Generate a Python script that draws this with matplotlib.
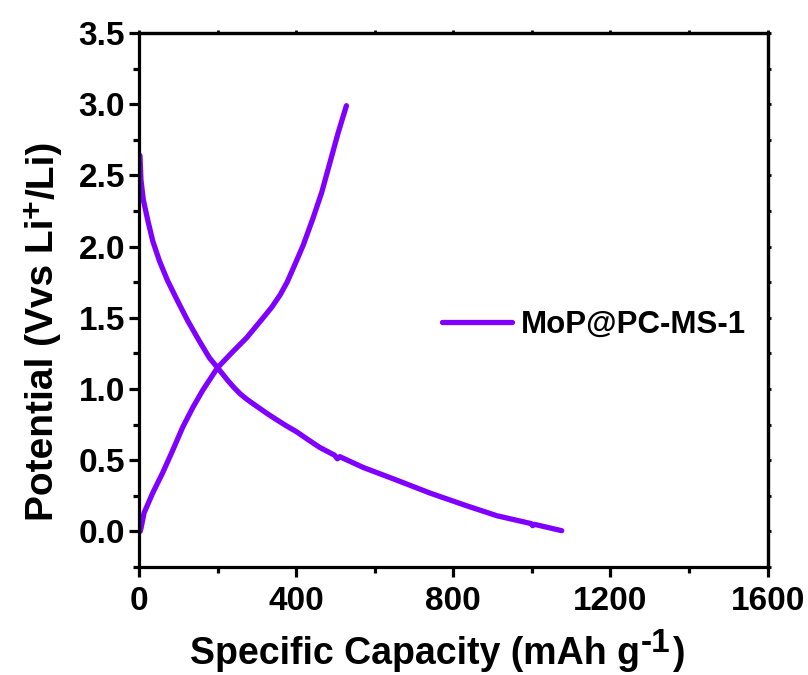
import matplotlib
matplotlib.use("Agg")
import matplotlib.pyplot as plt
from matplotlib.ticker import MultipleLocator, FormatStrFormatter

plt.rcParams['font.family'] = ['Liberation Sans', 'DejaVu Sans']
plt.rcParams['font.weight'] = 'bold'

# Discharge curve (capacity mAh/g, potential V)
dis_cap = [0, 2.5, 5, 11, 22, 35, 52, 73, 98, 124, 153, 179, 200, 226, 242, 258, 276, 299,
           325, 350, 376, 401, 430, 460, 498, 505, 511, 570, 656, 740, 834, 911, 998, 1002,
           1006, 1076]
dis_v = [2.64, 2.64, 2.47, 2.33, 2.19, 2.04, 1.90, 1.76, 1.62, 1.48, 1.34, 1.22, 1.15, 1.06,
         1.01, 0.965, 0.925, 0.88, 0.83, 0.785, 0.74, 0.70, 0.645, 0.59, 0.535, 0.51, 0.525,
         0.45, 0.36, 0.27, 0.18, 0.11, 0.055, 0.04, 0.05, 0.005]

# Charge curve
ch_cap = [3, 5, 13, 35, 60, 86, 111, 137, 162, 200, 238, 274, 316, 338, 359, 377, 393, 418,
          443, 465, 486, 507, 528]
ch_v = [0.0, 0.02, 0.13, 0.27, 0.41, 0.57, 0.73, 0.87, 0.99, 1.15, 1.26, 1.36, 1.50, 1.575,
        1.66, 1.75, 1.85, 2.01, 2.20, 2.38, 2.59, 2.80, 2.99]

label = "MoP@PC-MS-1"
xlabel_main, xlabel_sup, xlabel_end = "Specific Capacity (mAh g", "-1", ")"
ylabel_main, ylabel_sup, ylabel_end = "Potential (Vvs Li", "+", "/Li)"
color = "#7F00FF"

fig = plt.figure(figsize=(8.08, 6.75), dpi=100)
ax = fig.add_axes([0.172, 0.160, 0.778, 0.791])

ax.plot(dis_cap, dis_v, color=color, lw=3.8, solid_capstyle='round',
        solid_joinstyle='round', label=label)
ax.plot(ch_cap, ch_v, color=color, lw=3.8, solid_capstyle='round', solid_joinstyle='round')

ax.set_xlim(0, 1600)
ax.set_ylim(-0.25, 3.5)
ax.xaxis.set_major_locator(MultipleLocator(400))
ax.xaxis.set_minor_locator(MultipleLocator(200))
ax.yaxis.set_major_locator(MultipleLocator(0.5))
ax.yaxis.set_minor_locator(MultipleLocator(0.25))
ax.yaxis.set_major_formatter(FormatStrFormatter('%.1f'))

for s in ax.spines.values():
    s.set_linewidth(2.3)

ax.tick_params(which='major', direction='out', length=7, width=2.3, labelsize=24, pad=3)
ax.tick_params(which='minor', direction='out', length=4.5, width=2.3)
ax.tick_params(axis='x', which='major', pad=7)
for lab in ax.get_xticklabels() + ax.get_yticklabels():
    lab.set_fontweight('bold')

secx = ax.secondary_xaxis('top')
secx.xaxis.set_major_locator(MultipleLocator(200))
secx.tick_params(direction='out', length=2.5, width=2.0, labeltop=False)
secx.spines['top'].set_linewidth(2.3)
secy = ax.secondary_yaxis('right')
secy.yaxis.set_major_locator(MultipleLocator(0.25))
secy.tick_params(direction='out', length=2.5, width=2.0, labelright=False)
secy.spines['right'].set_linewidth(2.3)

# X label with a full-size raised superscript
xb = 0.016
t1 = fig.text(0.235, xb, xlabel_main, fontsize=27, fontweight='bold', ha='left', va='baseline')
t2 = ax.annotate(xlabel_sup, xy=(1, xb), xycoords=(t1, 'figure fraction'),
                 xytext=(0.5, 9), textcoords='offset points', fontsize=24, fontweight='bold',
                 ha='left', va='baseline', annotation_clip=False)
t3 = ax.annotate(xlabel_end, xy=(1, xb), xycoords=(t2, 'figure fraction'),
                 xytext=(1, 0), textcoords='offset points', fontsize=27, fontweight='bold',
                 ha='left', va='baseline', annotation_clip=False)

# Y label, rotated, with raised superscript
yx = 0.066
u1 = fig.text(yx, 0.228, ylabel_main, fontsize=28, fontweight='bold', rotation=90,
              rotation_mode='anchor', ha='left', va='baseline')
u2 = ax.annotate(ylabel_sup, xy=(yx, 1), xycoords=('figure fraction', u1),
                 xytext=(-9, 0.5), textcoords='offset points', fontsize=23, fontweight='bold',
                 rotation=90, rotation_mode='anchor', ha='left', va='baseline',
                 annotation_clip=False)
u3 = ax.annotate(ylabel_end, xy=(yx, 1), xycoords=('figure fraction', u2),
                 xytext=(0, 0.5), textcoords='offset points', fontsize=28, fontweight='bold',
                 rotation=90, rotation_mode='anchor', ha='left', va='baseline',
                 annotation_clip=False)

leg = ax.legend(loc='center left', bbox_to_anchor=(0.482, 0.453), frameon=False,
                fontsize=22.5, handlelength=2.25, handletextpad=0.27, borderpad=0,
                borderaxespad=0)
for t in leg.get_texts():
    t.set_fontweight('bold')
for h in leg.get_lines():
    h.set_solid_capstyle('round')

fig.savefig("out.png", dpi=100)
